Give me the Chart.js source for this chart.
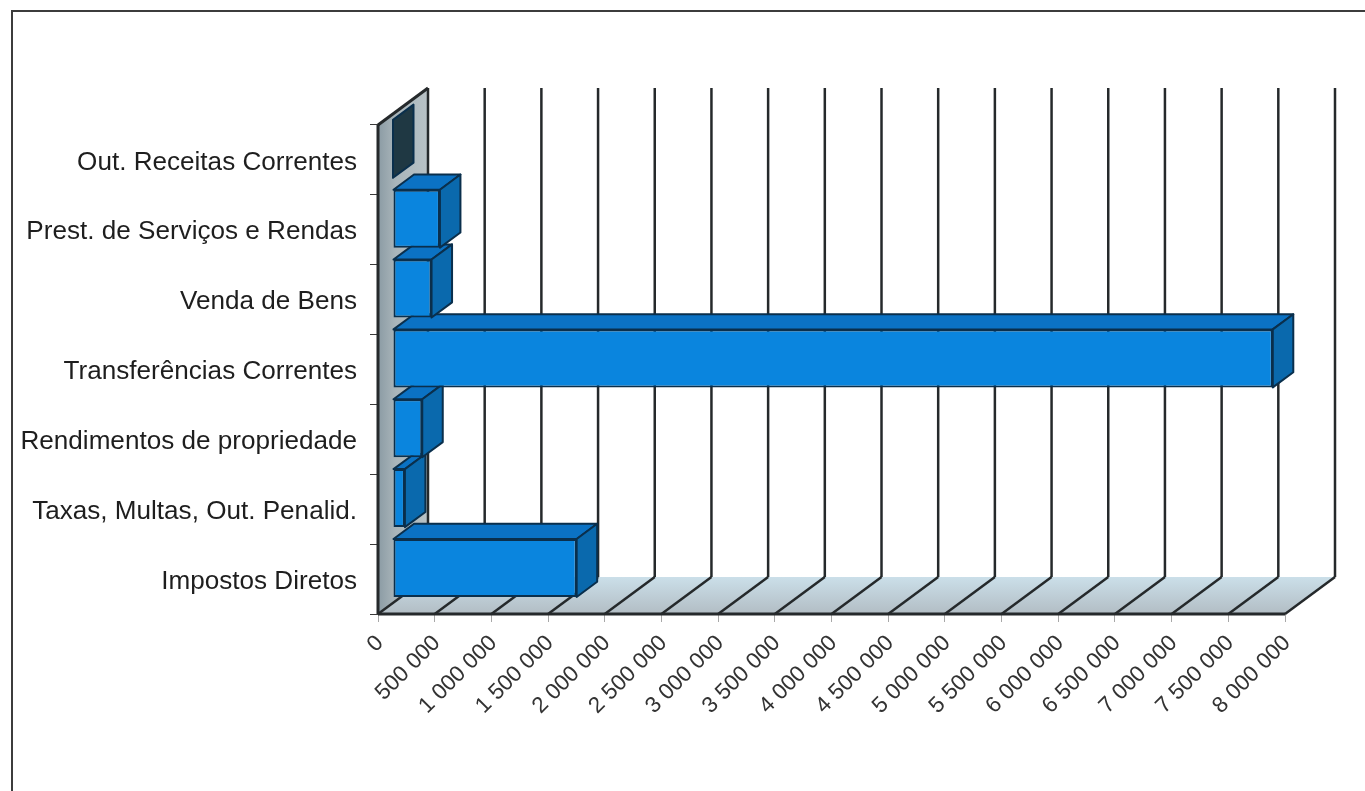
<!DOCTYPE html>
<html lang="pt">
  <head>
    <meta charset="UTF-8" />
    <title>Receitas Correntes</title>
    <style>
      html, body { margin: 0; background: #fff; }
      #frame { position: absolute; left: 11px; top: 10px; right: -5px; bottom: -5px; border: 2px solid #3c3c3c; }
      #chart { position: absolute; left: 0; top: 0; }
    </style>
  </head>
  <body>
    <div id="frame"></div>
    <canvas id="chart" width="1365" height="791"></canvas>
    <script src="https://cdn.jsdelivr.net/npm/chart.js"></script>
    <script>
      // bottom row first, the y axis is reversed
      const categories = [
        'Impostos Diretos',
        'Taxas, Multas, Out. Penalid.',
        'Rendimentos de propriedade',
        'Transferências Correntes',
        'Venda de Bens',
        'Prest. de Serviços e Rendas',
        'Out. Receitas Correntes',
      ];
      const receitas = [1620000, 105000, 258000, 7760000, 340000, 414000, 0];
      const valueTicks = [
        '0', '500 000', '1 000 000', '1 500 000', '2 000 000', '2 500 000',
        '3 000 000', '3 500 000', '4 000 000', '4 500 000', '5 000 000',
        '5 500 000', '6 000 000', '6 500 000', '7 000 000', '7 500 000', '8 000 000',
      ];

      // oblique projection of the depth axis
      const DEPTH = { x: 50, y: -37 };
      const BAR_START = 0.3; // bar front plane, as a share of the depth
      const BAR_DEPTH = 0.41;

      const FRONT = '#0a85de';
      const TOP = '#0b72c4';
      const SIDE = '#0a69ad';
      const EMPTY_SIDE = '#1f3843';
      const EDGE = '#0a2f4c';
      const LINE = '#25292b';

      function poly(ctx, pts, fill, stroke, width) {
        ctx.beginPath();
        pts.forEach((p, i) => (i ? ctx.lineTo(p[0], p[1]) : ctx.moveTo(p[0], p[1])));
        ctx.closePath();
        if (fill) {
          ctx.fillStyle = fill;
          ctx.fill();
        }
        if (stroke) {
          ctx.strokeStyle = stroke;
          ctx.lineWidth = width;
          ctx.lineJoin = 'round';
          ctx.stroke();
        }
      }

      function segment(ctx, x1, y1, x2, y2) {
        ctx.beginPath();
        ctx.moveTo(x1, y1);
        ctx.lineTo(x2, y2);
        ctx.stroke();
      }

      // walls, floor and the extruded part of the bars
      const box3d = {
        id: 'box3d',
        beforeDatasetsDraw(chart) {
          const { ctx, chartArea: a, scales } = chart;
          const dx = DEPTH.x;
          const dy = DEPTH.y;
          ctx.save();

          const floor = ctx.createLinearGradient(0, a.bottom + dy, 0, a.bottom);
          floor.addColorStop(0, '#cbdfe9');
          floor.addColorStop(1, '#b2bdc4');
          poly(ctx, [[a.left, a.bottom], [a.right, a.bottom], [a.right + dx, a.bottom + dy], [a.left + dx, a.bottom + dy]], floor);

          const wall = ctx.createLinearGradient(a.left, 0, a.left + dx, 0);
          wall.addColorStop(0, '#8b9ba4');
          wall.addColorStop(0.35, '#a9b5ba');
          wall.addColorStop(1, '#b8c2c6');
          poly(ctx, [[a.left, a.top], [a.left + dx, a.top + dy], [a.left + dx, a.bottom + dy], [a.left, a.bottom]], wall);

          ctx.strokeStyle = LINE;
          ctx.lineWidth = 2.5;
          valueTicks.forEach((_, i) => {
            const x = scales.x.getPixelForValue(i * 500000);
            segment(ctx, x, a.bottom, x + dx, a.bottom + dy);
            segment(ctx, x + dx, a.bottom + dy, x + dx, a.top + dy);
          });
          ctx.lineWidth = 3;
          segment(ctx, a.left, a.top, a.left + dx, a.top + dy);
          segment(ctx, a.left, a.top, a.left, a.bottom);
          segment(ctx, a.left, a.bottom, a.right, a.bottom);

          const sx = dx * BAR_START;
          const sy = dy * BAR_START;
          const tx = dx * BAR_DEPTH;
          const ty = dy * BAR_DEPTH;
          chart.getDatasetMeta(0).data.forEach((bar, i) => {
            const h = bar.height / 2;
            const left = bar.base + sx;
            const right = bar.x + sx;
            const top = bar.y - h + sy;
            const bottom = bar.y + h + sy;
            if (receitas[i] > 0) {
              poly(ctx, [[left, top], [left + tx, top + ty], [right + tx, top + ty], [right, top]], TOP, EDGE, 2);
            }
            poly(ctx, [[right, top], [right + tx, top + ty], [right + tx, bottom + ty], [right, bottom]],
              receitas[i] > 0 ? SIDE : EMPTY_SIDE, EDGE, 2);
          });
          ctx.restore();
        },
        // the library draws the front faces, moved onto the bar plane
        beforeDatasetDraw(chart) {
          chart.ctx.save();
          chart.ctx.translate(DEPTH.x * BAR_START, DEPTH.y * BAR_START);
        },
        afterDatasetDraw(chart) {
          chart.ctx.restore();
        },
      };

      new Chart(document.getElementById('chart'), {
        type: 'bar',
        data: {
          labels: categories,
          datasets: [
            {
              data: receitas,
              backgroundColor: FRONT,
              borderColor: EDGE,
              borderWidth: 2,
              borderSkipped: false,
              barPercentage: 0.83,
              categoryPercentage: 1,
              clip: false,
            },
          ],
        },
        plugins: [box3d],
        options: {
          indexAxis: 'y',
          responsive: false,
          animation: false,
          layout: { padding: { top: 125, right: 80, left: 0, bottom: 0 } },
          plugins: { legend: { display: false }, tooltip: { enabled: false } },
          scales: {
            x: {
              min: 0,
              max: 8000000,
              afterFit(scale) {
                scale.height = 177;
              },
              border: { display: false },
              grid: { drawOnChartArea: false, color: '#a8a8a8', tickLength: 8 },
              ticks: {
                stepSize: 500000,
                autoSkip: false,
                minRotation: 45,
                maxRotation: 45,
                padding: 8,
                labelOffset: 2,
                color: '#333',
                font: { family: 'Liberation Sans', size: 22.4 },
                callback: (value, i) => valueTicks[i],
              },
            },
            y: {
              reverse: true,
              afterFit(scale) {
                scale.width = 378;
              },
              border: { display: false },
              grid: { drawOnChartArea: false, color: '#3a3a3a', tickLength: 8 },
              ticks: {
                padding: 13,
                labelOffset: 2.5,
                color: '#1e1e1e',
                font: { family: 'Liberation Sans', size: 26.1 },
              },
            },
          },
        },
      });
    </script>
  </body>
</html>
